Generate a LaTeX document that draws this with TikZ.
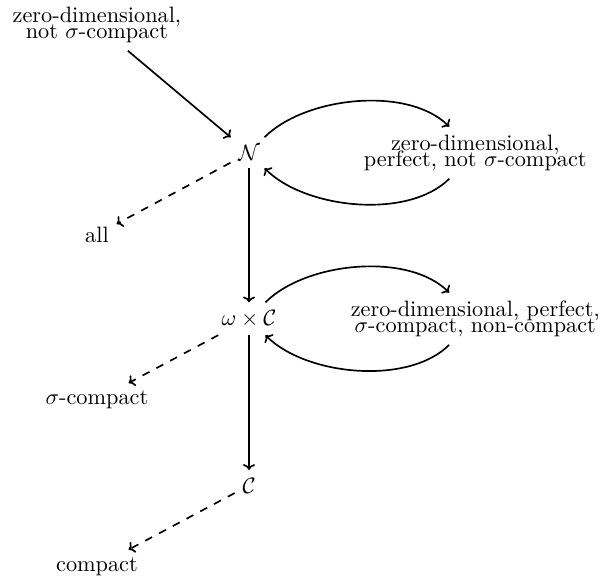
\documentclass[tikz,border=0pt]{standalone}
\usepackage{amsmath}
\usepackage{tikz}
\usetikzlibrary{positioning}
\usetikzlibrary{arrows.meta}
\tikzstyle{arrow} = [line width=0.75pt,-{To[length=2.6pt,width=5.4pt]}]
\tikzstyle{dasharrow} = [line width=0.75pt,dash pattern=on 3.5pt off 3.5pt,-{To[length=2.6pt,width=5.4pt]}]
\tikzstyle{bendarrow} = [line width=0.75pt,-{To[length=2.6pt,width=5.4pt]},looseness=0.8]
\tikzstyle{label} = [align=center]

\begin{document}
\begin{tikzpicture}
	\useasboundingbox (-3.93,-6.70) rectangle (5.57,2.41);
	
	%Coordinates
	\coordinate (origin);
	\coordinate [below=2.62cm of origin] (midRow);
	\coordinate [below=5.25cm of origin] (lowRow);
	\coordinate [above left=2.02cm and 2.40cm of origin] (topLeft);
	\coordinate [below left=1.29cm and 2.40cm of origin] (allPos);
	\coordinate [below left=1.28cm and 2.40cm of midRow] (sigmaPos);
	\coordinate [below left=1.28cm and 2.40cm of lowRow] (compactPos);
	\coordinate [right=3.57cm of origin] (topRight);
	\coordinate [right=3.57cm of midRow] (midRight);
	
	%Nodes
	\node (baire) at (origin) {$\mathcal{N}$};
	\node (omegaCantor) at (midRow) {$\omega\times\mathcal{C}$};
	\node (cantor) at (lowRow) {$\mathcal{C}$};
	\node [label] (zeroDim) at (topLeft) {zero-dimensional,\\[-4.6pt] not $\sigma$-compact};
	\node (all) at (allPos) {all};
	\node (sigmaCompact) at (sigmaPos) {$\sigma$-compact};
	\node (compact) at (compactPos) {compact};
	\node [label] (perfectNotSigma) at (topRight) {zero-dimensional,\\[-4.6pt] perfect, not $\sigma$-compact};
	\node [label] (perfectSigma) at (midRight) {zero-dimensional, perfect,\\[-4.6pt] $\sigma$-compact, non-compact};
	
	%Lines
	\draw[arrow] (zeroDim) -- (baire);
	\draw[arrow] (baire) -- (omegaCantor);
	\draw[arrow] (omegaCantor) -- (cantor);
	\draw[dasharrow] (baire) -- (all);
	\draw[dasharrow] (omegaCantor) -- (sigmaCompact);
	\draw[dasharrow] (cantor) -- (compact);
	\draw[bendarrow] (baire) to[out=45,in=135] (perfectNotSigma);
	\draw[bendarrow] (perfectNotSigma) to[out=-135,in=-45] (baire);
	\draw[bendarrow] (omegaCantor) to[out=45,in=135] (perfectSigma);
	\draw[bendarrow] (perfectSigma) to[out=-135,in=-45] (omegaCantor);
	
\end{tikzpicture}
\end{document}
